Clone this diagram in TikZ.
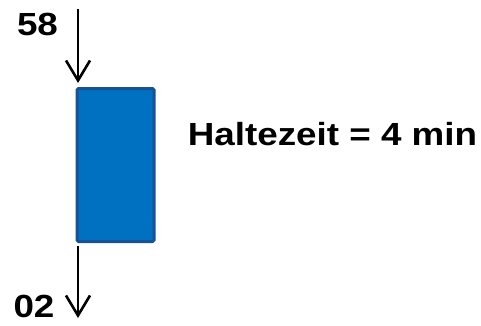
\documentclass[tikz,border=0pt]{standalone}
\usepackage{fontspec}
\setmainfont{Liberation Sans}[FakeStretch=1.15]
\usetikzlibrary{arrows.meta}
\definecolor{boxfill}{RGB}{0,112,192}
\definecolor{boxedge}{RGB}{24,82,150}
\tikzset{
  lbl/.style={font=\fontsize{32}{36}\selectfont\bfseries, inner sep=0pt, anchor=base},
  flow/.style={line width=2.6pt, -{Straight Barb[length=20pt,width=24pt,line width=2.6pt]}},
  stop/.style={draw=boxedge, line width=3pt, fill=boxfill, rounded corners=1.5pt,
    inner sep=0pt, minimum width=77pt, minimum height=153pt}
}
\begin{document}
\begin{tikzpicture}[x=1pt,y=1pt]
  \useasboundingbox (0,0) rectangle (481,325);
  % stop block
  \node[stop] (stopbox) at (115.5,160) {};
  % arrival and departure
  \coordinate (inA) at (78,316);
  \coordinate (inB) at (78,242);
  \coordinate (outA) at (78,79);
  \coordinate (outB) at (78,7);
  \draw[flow] (inA) -- (inB);
  \draw[flow] (outA) -- (outB);
  % times
  \node[lbl] (arr) at (37.5,290) {58};
  \node[lbl] (dep) at (34,7.5) {02};
  \node[lbl] (dwell) at (332.5,180) {Haltezeit = 4 min};
\end{tikzpicture}
\end{document}
